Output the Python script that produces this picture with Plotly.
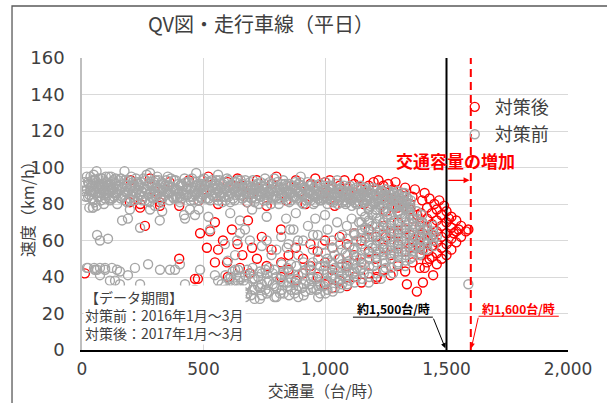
import plotly.graph_objects as go

# ---- 対策前 (2016) : flow [veh/h] -> speeds [km/h] ----
before_upper_rows = [
    (10, (87, 92)), (20, (88, 95)), (25, (92, 84)), (30, (85, 78)), (35, (95, 89)),
    (40, (90, 83)), (45, (82, 78)), (50, (87, 93)), (55, (93, 86)), (60, (98, 79)),
    (65, (89, 84)), (70, (84, 91)), (75, (91, 86)), (80, (86, 94)), (85, (94, 89)),
    (90, (80, 87)), (95, (88, 83)), (100, (92, 86)), (105, (85, 90)), (110, (90, 95)),
    (115, (87, 82)), (120, (95, 89)), (125, (83, 88)), (130, (89, 93)), (140, (91, 85)),
    (145, (86, 80)), (150, (93, 88)),
    (5, (90,)), (15, (84,)), (28, (91,)), (38, (87,)), (48, (96,)), (58, (90,)),
    (68, (94,)), (78, (82,)), (88, (91,)), (98, (95,)), (108, (88,)), (118, (91,)),
    (128, (86,)), (138, (94,)), (148, (90,)), (42, (93,)), (52, (81,)), (72, (88,)),
    (82, (90,)), (92, (85,)), (102, (89,)), (112, (83,)), (122, (92,)), (132, (84,)),
    (142, (88,)),
    (160, (94, 88, 83)), (185, (90, 86, 81)), (210, (92, 87, 84)), (235, (89, 85, 91)),
    (260, (93, 88, 82)), (285, (87, 90, 84)), (310, (95, 89, 85)), (335, (88, 84, 91)),
    (360, (90, 86, 82)), (385, (93, 88, 84)), (410, (87, 91, 83)), (435, (89, 85, 92)),
    (460, (92, 87, 82)), (485, (88, 90, 84)), (510, (91, 86, 83)), (535, (89, 93, 85)),
    (560, (87, 90, 82)), (585, (92, 88, 84)), (610, (86, 90, 81)), (635, (89, 85, 92)),
    (660, (91, 87, 83)), (685, (88, 84, 90)), (710, (90, 86, 81)), (735, (87, 92, 84)),
    (760, (89, 85, 82)), (785, (91, 87, 83)), (810, (86, 89, 80)), (835, (88, 84, 91)),
    (860, (90, 86, 82)), (885, (87, 83, 89)), (910, (89, 85, 80)), (935, (86, 90, 83)),
    (960, (88, 84, 81)), (985, (85, 89, 82)), (1010, (87, 83, 80)), (1035, (89, 85, 81)),
    (1060, (86, 82, 88)), (1085, (84, 87, 80)), (1110, (86, 82, 79)), (1135, (88, 84, 80)),
    (1160, (85, 81, 87)), (1185, (83, 86, 79)), (1210, (85, 81, 77)), (1235, (87, 83, 79)),
    (1260, (84, 80, 76)), (1285, (86, 82, 78)), (1310, (83, 79, 75)), (1335, (81, 77, 84)),
    (172, (91, 85)), (197, (89, 83)), (222, (94, 86)), (247, (87, 82)), (272, (90, 85)),
    (297, (92, 86)), (322, (88, 83)), (347, (93, 87)), (372, (89, 84)), (397, (91, 86)),
    (422, (94, 85)), (447, (88, 82)), (472, (90, 86)), (497, (93, 85)), (522, (88, 83)),
    (547, (91, 86)), (572, (89, 84)), (597, (94, 87)), (622, (88, 83)), (647, (90, 85)),
    (672, (93, 86)), (697, (89, 83)), (722, (91, 85)), (747, (88, 82)), (772, (92, 86)),
    (797, (89, 84)), (822, (91, 85)), (847, (87, 82)), (872, (90, 84)), (897, (92, 86)),
    (922, (88, 82)), (947, (91, 85)), (972, (87, 83)), (997, (90, 84)), (1022, (88, 82)),
    (1047, (91, 84)), (1072, (87, 81)), (1097, (89, 83)), (1122, (86, 81)), (1147, (90, 83)),
    (1172, (87, 82)), (1197, (89, 81)), (1222, (86, 80)), (1247, (88, 82)), (1272, (85, 79)),
    (1297, (87, 81)), (1322, (84, 78)), (1347, (80, 76)),
    (178, (93, 87, 82)), (203, (90, 85, 95)), (228, (88, 83, 92)), (253, (94, 89, 84)),
    (278, (91, 86, 81)), (303, (89, 84, 93)), (328, (92, 87, 82)), (353, (86, 90, 95)),
    (378, (93, 88, 83)), (403, (90, 84, 81)), (428, (88, 92, 85)), (453, (94, 89, 84)),
    (478, (87, 91, 82)), (503, (90, 86, 94)), (528, (92, 87, 82)), (553, (88, 84, 93)),
    (578, (91, 86, 81)), (603, (89, 93, 84)), (628, (92, 87, 82)), (653, (88, 85, 93)),
    (678, (90, 86, 81)), (703, (93, 88, 84)), (728, (89, 85, 80)), (753, (91, 86, 94)),
    (778, (88, 84, 80)), (803, (92, 87, 83)), (828, (89, 85, 93)), (853, (91, 86, 81)),
    (878, (88, 84, 92)), (903, (90, 85, 81)), (928, (87, 83, 92)), (953, (89, 85, 80)),
    (978, (91, 86, 82)), (1003, (88, 84, 92)), (1028, (86, 82, 90)), (1053, (88, 84, 80)),
    (1078, (90, 85, 82)), (1103, (87, 83, 90)), (1128, (89, 84, 80)), (1153, (86, 82, 89)),
    (1178, (88, 84, 78)), (1203, (85, 80, 88)), (1228, (87, 82, 78)), (1253, (85, 81, 88)),
    (1278, (83, 79, 86)), (1303, (85, 80, 76)), (1328, (82, 78, 86)), (1353, (78, 74, 82)),
    (1378, (76, 72)), (1400, (74, 70)),
    (166, (89, 84)), (191, (93, 87)), (216, (90, 82)), (241, (92, 85)), (266, (88, 96)),
    (291, (91, 83)), (316, (87, 93)), (341, (90, 85)), (366, (94, 87)), (391, (88, 83)),
    (416, (90, 86)), (441, (92, 84)), (466, (89, 85)), (491, (91, 83)), (516, (87, 92)),
    (541, (90, 84)), (566, (93, 86)), (591, (88, 82)), (616, (91, 86)), (641, (87, 93)),
    (666, (89, 84)), (691, (92, 86)), (716, (88, 83)), (741, (90, 86)), (766, (87, 83)),
    (791, (89, 94)), (816, (88, 83)), (841, (90, 86)), (866, (88, 84)), (891, (86, 91)),
    (916, (89, 84)), (941, (87, 82)), (966, (90, 85)), (991, (87, 83)), (1016, (90, 85)),
    (1041, (86, 82)), (1066, (89, 84)), (1091, (86, 81)), (1116, (88, 83)), (1141, (85, 81)),
    (1166, (89, 84)), (1191, (86, 80)), (1216, (88, 83)), (1241, (85, 80)), (1266, (87, 82)),
    (1291, (84, 79)), (1316, (86, 81)), (1341, (83, 78)),
    (175, (98,)), (280, (97,)), (470, (97,)), (560, (96,)), (900, (95,)), (1050, (93,)),
    (330, (76,)), (420, (74,)), (480, (77,)), (520, (73,)), (610, (75,)), (650, (71,)),
    (700, (77,)), (760, (73,)),
]

before_core_rows = [
    (1150, (76, 70, 64, 58)), (1180, (77, 71, 65, 59, 53)), (1210, (75, 69, 63, 57, 51)),
    (1240, (76, 70, 64, 58, 52)), (1270, (74, 68, 62, 56, 50)), (1300, (75, 69, 63, 57, 51)),
    (1330, (73, 67, 61, 55)), (1360, (72, 66, 60, 54)), (1390, (70, 64, 58, 52)),
    (1420, (68, 63, 58)), (1445, (65, 60)),
    (1165, (73, 67, 61, 55)), (1195, (74, 68, 62, 56)), (1225, (72, 66, 60, 54)),
    (1255, (73, 67, 61, 55)), (1285, (71, 65, 59, 53)), (1315, (72, 66, 60, 54)),
    (1345, (70, 64, 58)), (1375, (68, 62, 56)), (1405, (66, 60, 55)), (1435, (62,)),
]

before_congested_rows = [
    (560, (38, 33)), (590, (41, 35, 30)), (620, (37, 32, 43)), (650, (40, 34, 29)),
    (680, (36, 44, 31)), (710, (39, 33, 28)), (740, (42, 36, 30)), (770, (38, 32, 45)),
    (800, (40, 34, 29)), (830, (43, 37, 31)), (860, (39, 33, 47)), (890, (41, 35, 29)),
    (920, (44, 38, 32)), (950, (40, 34, 48)), (980, (46, 36, 31)), (1010, (42, 38, 33, 50)),
    (1040, (45, 39, 34, 52)), (1070, (47, 41, 36, 55)), (1100, (49, 43, 38, 57)),
    (1130, (51, 45, 40, 60)), (1160, (47, 42)), (1200, (46,)), (1250, (45, 48)),
    (1300, (47,)), (1350, (50,)),
    (575, (36,)), (605, (39, 31)), (635, (35, 41)), (665, (38, 32)), (695, (42, 30)),
    (725, (35, 40)), (755, (33, 44)), (785, (36, 42)), (815, (31, 39)), (845, (35, 45)),
    (875, (37, 31)), (905, (42, 34)), (935, (36, 46)), (965, (39, 33)), (995, (44, 35)),
    (1025, (40, 48)), (1055, (37, 43, 50)), (1085, (39, 45, 53)), (1115, (42, 47, 55)),
    (1145, (44, 50)),
    (612, (34, 40)), (642, (31, 38, 44)), (672, (29, 35, 41)), (702, (33, 39, 45)),
    (732, (28, 34, 43)), (762, (31, 37, 42)), (792, (29, 35, 44)), (822, (33, 41, 47)),
    (852, (30, 37, 43)), (882, (33, 39, 46)), (912, (30, 36, 48)), (942, (33, 39, 44)),
    (972, (29, 35, 42, 50)), (1002, (31, 37, 46, 53)), (1032, (32, 41, 47, 56)),
    (1062, (34, 39, 45, 58)), (1092, (36, 41, 47, 52, 61)), (1122, (37, 43, 49, 56, 63)),
    (1152, (39, 45, 52, 66)), (1182, (40, 46, 50, 62, 70)), (1212, (42, 48, 54, 60, 72)),
    (1242, (43, 49, 55, 67)), (1272, (45, 53, 59, 65, 70)), (1302, (48, 54, 60, 66)),
    (1332, (49, 52, 58, 64, 70)), (1362, (51, 57, 63, 69)), (1392, (53, 56, 61, 67)),
    (1422, (55, 61, 66)), (1447, (57, 63, 68)), (1460, (62,)),
    (1180, (37,)), (1230, (39,)), (1280, (42,)), (1330, (46,)),
    (800, (55,)), (820, (62,)), (850, (58,)), (870, (66,)), (890, (52,)), (910, (60,)),
    (930, (68,)), (950, (55,)), (970, (63,)), (990, (58,)), (1010, (66,)), (1030, (60,)),
    (1050, (70,)), (1070, (63,)), (1090, (68,)), (1110, (72,)), (1120, (64,)), (1140, (70,)),
    (760, (60,)), (780, (52,)), (740, (57,)), (840, (72,)), (880, (75,)), (960, (72,)),
    (1000, (74,)), (843, (56,)), (856, (66,)), (889, (60,)), (951, (63,)), (650, (64,)),
    (638, (60,)), (600, (49,)),
]

before_scatter_rows = [
    (197, (77,)), (189, (72,)), (239, (67,)), (280, (77,)), (300, (79,)), (424, (72,)),
    (444, (77,)), (465, (74,)), (527, (66,)), (671, (66,)), (691, (60,)), (588, (58,)),
    (630, (52, 44)), (547, (41,)), (486, (44,)), (383, (44, 30)), (321, (44,)),
    (272, (47,)), (218, (45,)), (189, (41,)), (156, (43, 36)), (123, (45,)), (95, (44, 45)),
    (53, (44,)), (25, (45,)), (74, (41, 60, 45)), (115, (38,)), (239, (36, 27)),
    (527, (27,)), (465, (33,)), (588, (33,)), (107, (61,)), (62, (63, 44)), (20, (45,)),
    (50, (45,)), (144, (44,)), (136, (38,)), (45, (78,)), (33, (87,)), (165, (71,)),
    (320, (71,)), (403, (47,)), (424, (36,)), (362, (44,)), (1590, (36,)),
]

# ---- 対策後 (2017) ----
after_upper_rows = [
    (200, (93,)), (240, (80,)), (280, (94,)), (320, (81,)), (360, (92,)), (400, (79,)),
    (440, (93,)), (480, (82,)), (520, (95,)), (560, (80,)), (600, (92,)), (640, (94,)),
    (680, (81,)), (720, (93,)), (760, (79,)), (800, (95,)), (840, (82,)), (880, (93,)),
    (920, (80,)), (960, (94,)), (1000, (92, 86)), (1040, (79,)), (1080, (93,)),
    (1120, (91,)), (1160, (80,)), (1200, (92,)), (1240, (90,)), (1280, (88,)),
    (1320, (86,)), (1360, (84,)), (1400, (82,)), (300, (87,)), (500, (88,)), (700, (86,)),
    (900, (87,)), (1100, (85,)), (1300, (82,)), (1150, (88,)), (1250, (84,)), (1350, (80,)),
    (660, (90,)), (780, (91,)), (860, (90,)), (940, (91,)), (1020, (93,)), (1060, (90,)),
    (1140, (94,)), (1180, (90,)), (1220, (93,)), (1260, (91,)), (1290, (92,)),
    (1330, (89,)), (1370, (88,)), (1410, (86,)), (1430, (83,)),
    (197, (81,)), (239, (78,)), (321, (79,)),
]

after_scatter_rows = [
    (12, (42,)), (259, (68,)), (400, (50,)), (465, (39,)), (477, (39,)), (486, (64,)),
    (527, (65,)), (547, (70, 48)), (514, (56,)), (683, (71,)), (819, (66,)), (617, (66,)),
    (597, (48,)), (560, (55,)), (580, (60,)), (640, (58,)), (660, (52,)), (700, (56,)),
    (720, (50,)), (740, (62,)), (760, (46,)), (780, (55,)), (650, (45,)), (600, (40,)),
    (690, (42,)),
]

after_congested_rows = [
    (820, (48, 40)), (850, (52, 44)), (880, (56, 38)), (910, (50, 42)), (940, (58, 46)),
    (970, (54, 40)), (1000, (60, 48, 36)), (1030, (56, 44, 34)), (1060, (62, 50, 38)),
    (1090, (58, 46, 35)), (1120, (64, 52, 40)), (1150, (60, 48, 37)), (1180, (66, 54, 42)),
    (1210, (62, 50, 39)), (1240, (68, 56, 44)), (1270, (64, 52, 41)), (1300, (70, 58, 46)),
    (1330, (66, 54, 43)), (1360, (72, 60, 48)), (1390, (68, 56, 45)),
    (1337, (36,)), (1378, (32,)), (1403, (37,)), (1445, (41,)), (1213, (40,)),
    (1250, (76, 62)), (1300, (78, 64)), (1350, (77, 63, 56)), (1380, (74, 58)),
    (1400, (70, 64, 55)), (1230, (86,)), (1270, (83,)),
]

after_capacity_rows = [
    (1420, (78, 72, 66, 60, 54, 48)), (1440, (75, 69, 63, 57, 51)),
    (1460, (77, 71, 65, 59, 53, 47)), (1480, (74, 68, 62, 56, 50)),
    (1500, (76, 70, 64, 58, 52)), (1520, (73, 67, 61, 55)), (1540, (71, 65, 59)),
    (1560, (68, 62)), (1580, (65,)), (1590, (66,)), (1450, (80,)), (1470, (82,)),
    (1490, (79,)), (1510, (72,)), (1530, (64,)), (1550, (66,)), (1410, (45,)),
    (1430, (50,)), (1395, (75, 62, 52)),
]

# reference capacities
capacity_before = 1500
capacity_after = 1600

x_ticks = [0, 500, 1000, 1500, 2000]
y_ticks = [0, 20, 40, 60, 80, 100, 120, 140, 160]


def expand(*row_sets):
    xs, ys = [], []
    for rows in row_sets:
        for flow, speeds in rows:
            for s in speeds:
                xs.append(flow)
                ys.append(s)
    return xs, ys


after_x, after_y = expand(after_upper_rows, after_scatter_rows,
                          after_congested_rows, after_capacity_rows)
before_x, before_y = expand(before_upper_rows, before_core_rows,
                            before_congested_rows, before_scatter_rows)

RED = "#FF0000"
GRAY = "#A6A6A6"
TXT = "#404040"
JP = "Noto Sans CJK JP"

fig = go.Figure()
fig.add_trace(go.Scatter(
    x=after_x, y=after_y, mode="markers", name="対策後", legendgroup="a",
    marker=dict(symbol="circle-open", size=9, color=RED, line=dict(width=1.4)),
))
fig.add_trace(go.Scatter(
    x=before_x, y=before_y, mode="markers", name="対策前", legendgroup="b",
    marker=dict(symbol="circle-open", size=9, color=GRAY, line=dict(width=1.4)),
))

# capacity lines
fig.add_shape(type="line", x0=capacity_before, x1=capacity_before, y0=0, y1=160,
              xref="x", yref="y", line=dict(color="black", width=2))
fig.add_shape(type="line", x0=capacity_after, x1=capacity_after, y0=0, y1=160,
              xref="x", yref="y", line=dict(color=RED, width=2, dash="8px,5px"))

# outer frame
fig.add_shape(type="rect", xref="paper", yref="paper",
              x0=-0.144, x1=1.2, y0=-0.3, y1=1.178,
              line=dict(color="#595959", width=1.3), fillcolor="rgba(0,0,0,0)")

# leader lines under the capacity labels
fig.add_shape(type="line", xref="x", yref="y", x0=1115, x1=1444, y0=18, y1=18,
              line=dict(color="black", width=1))
fig.add_shape(type="line", xref="x", yref="y", x0=1632, x1=1962, y0=18.5, y1=18.5,
              line=dict(color=RED, width=1))

annotations = [
    # axis titles
    dict(x=0.5, y=-0.138, xref="paper", yref="paper", xanchor="center", yanchor="middle",
         text="交通量（台/時）", showarrow=False,
         font=dict(family=JP, size=15.5, color=TXT)),
    dict(x=-0.113, y=0.497, xref="paper", yref="paper", xanchor="center", yanchor="middle",
         text="速度（km/h）", textangle=-90, showarrow=False,
         font=dict(family=JP, size=16, color=TXT)),
    dict(x=1535, y=104, xref="x", yref="y", text="<b>交通容量の増加</b>", showarrow=False,
         font=dict(family=JP, size=17, color=RED)),
    dict(x=capacity_after - 5, y=93, ax=capacity_before + 2, ay=93, xref="x", yref="y",
         axref="x", ayref="y", text="", showarrow=True, arrowhead=2, arrowsize=1,
         arrowwidth=1.2, arrowcolor=RED),
    dict(x=1280, y=23, xref="x", yref="y", text="<b>約1,500台/時</b>", showarrow=False,
         font=dict(family=JP, size=12, color="black")),
    dict(x=capacity_before - 5, y=1, ax=1444, ay=18, xref="x", yref="y",
         axref="x", ayref="y", text="", showarrow=True, arrowhead=2, arrowsize=1,
         arrowwidth=1, arrowcolor="black"),
    dict(x=1798, y=23, xref="x", yref="y", text="<b>約1,600台/時</b>", showarrow=False,
         font=dict(family=JP, size=12, color=RED)),
    dict(x=capacity_after + 2, y=1, ax=1632, ay=18.5, xref="x", yref="y",
         axref="x", ayref="y", text="", showarrow=True, arrowhead=2, arrowsize=1,
         arrowwidth=1, arrowcolor=RED),
    dict(x=0.003, y=0.222, xref="paper", yref="paper", xanchor="left", yanchor="top",
         align="left", showarrow=False, bgcolor="white", borderpad=1,
         text="【データ期間】<br>対策前：2016年1月～3月<br>対策後：2017年1月～3月",
         font=dict(family=JP, size=14, color=TXT)),
]

fig.update_layout(
    width=607, height=403,
    margin=dict(l=82, r=39, t=58, b=53),
    paper_bgcolor="white", plot_bgcolor="white",
    title=dict(text="QV図・走行車線（平日）", x=0.43, xanchor="center",
               y=0.938, yanchor="middle",
               font=dict(family=JP, size=20, color=TXT)),
    xaxis=dict(range=[0, 2000], tickvals=x_ticks, tickformat=",d", automargin=False,
               showgrid=True, gridcolor="#D9D9D9", gridwidth=1,
               showline=True, linecolor="black", linewidth=2, zeroline=False,
               ticks="", ticklabelstandoff=3,
               tickfont=dict(family="DejaVu Sans", size=17, color=TXT)),
    yaxis=dict(range=[0, 160], tickvals=y_ticks, automargin=False,
               showgrid=True, gridcolor="#D9D9D9", gridwidth=1,
               showline=True, linecolor="#BFBFBF", linewidth=1.5, zeroline=False,
               ticks="", ticklabelstandoff=12,
               tickfont=dict(family="DejaVu Sans", size=18, color=TXT)),
    legend=dict(x=0.767, y=0.895, xanchor="left", yanchor="top",
                bgcolor="rgba(0,0,0,0)", tracegroupgap=1,
                font=dict(family=JP, size=18, color=TXT)),
    annotations=annotations,
    showlegend=True,
)

fig.write_html("out.html")
